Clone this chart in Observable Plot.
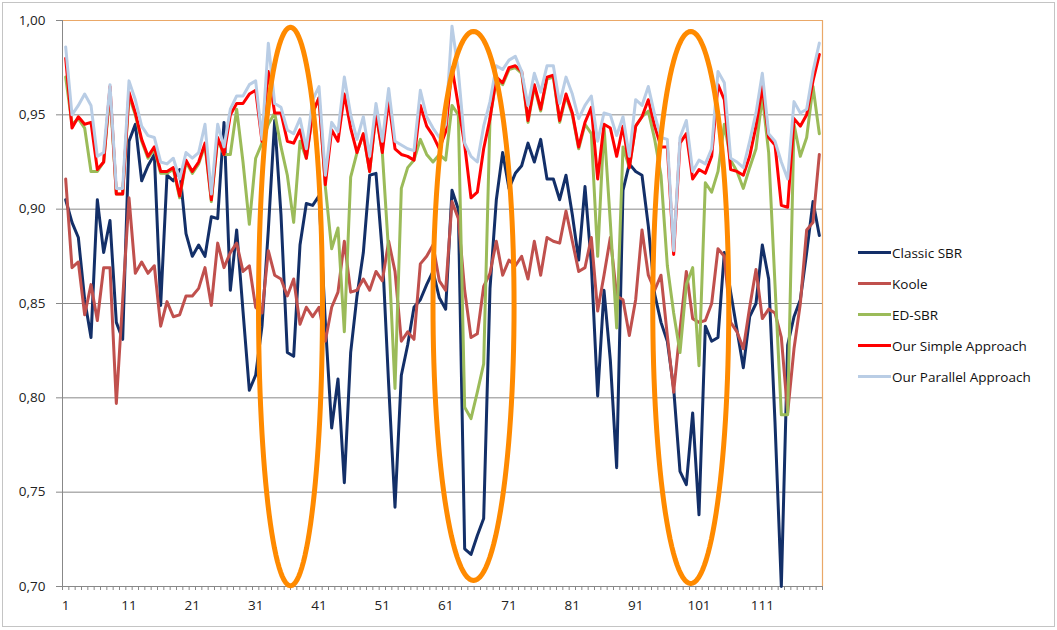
<!DOCTYPE html>
<html>
<head>
<meta charset="utf-8">
<script src="https://cdn.jsdelivr.net/npm/d3@7"></script>
<script src="https://cdn.jsdelivr.net/npm/@observablehq/plot@0.6"></script>
<style>
  body { margin: 0; background: #fff; font-family: "Open Sans", Lato, sans-serif; }
  #chart { position: relative; width: 1057px; height: 630px; }
  #frame { position: absolute; left: 2px; top: 2px; width: 1051px; height: 623px; border: 1px solid #c4c4c4; pointer-events: none; }
  #chart svg { position: absolute; left: 0; top: 0; }
  #legend { position: absolute; left: 858px; top: 237px; }
  .item { display: flex; align-items: center; height: 31px; font-size: 13.5px; color: #111; white-space: nowrap; }
  .swatch { width: 33px; height: 3px; margin-right: 1px; }
</style>
</head>
<body>
<div id="chart"><div id="frame"></div><div id="legend"></div></div>
<script>
// Run numbers 1..120 on the category axis
const runs = d3.range(1, 121);

const classicSBR = [
  0.905, 0.893, 0.885, 0.852, 0.832, 0.905, 0.877, 0.894, 0.840, 0.831,
  0.936, 0.945, 0.915, 0.923, 0.929, 0.849, 0.918, 0.915, 0.921, 0.887,
  0.875, 0.881, 0.875, 0.896, 0.895, 0.946, 0.857, 0.889, 0.846, 0.804,
  0.812, 0.838, 0.889, 0.947, 0.897, 0.824, 0.822, 0.881, 0.903, 0.902,
  0.907, 0.840, 0.784, 0.810, 0.755, 0.824, 0.854, 0.877, 0.918, 0.919,
  0.877, 0.807, 0.742, 0.812, 0.828, 0.848, 0.852, 0.860, 0.867, 0.853,
  0.847, 0.910, 0.900, 0.720, 0.717, 0.727, 0.736, 0.858, 0.905, 0.930,
  0.911, 0.919, 0.923, 0.935, 0.925, 0.937, 0.916, 0.916, 0.905, 0.918,
  0.897, 0.873, 0.912, 0.871, 0.801, 0.857, 0.820, 0.763, 0.910, 0.924,
  0.920, 0.918, 0.891, 0.855, 0.840, 0.830, 0.805, 0.761, 0.754, 0.792,
  0.738, 0.838, 0.830, 0.832, 0.877, 0.856, 0.836, 0.816, 0.843, 0.850,
  0.881, 0.863, 0.787, 0.700, 0.828, 0.843, 0.852, 0.877, 0.904, 0.886
];

const koole = [
  0.916, 0.869, 0.872, 0.844, 0.860, 0.841, 0.869, 0.869, 0.797, 0.852,
  0.906, 0.866, 0.872, 0.866, 0.870, 0.838, 0.851, 0.843, 0.844, 0.854,
  0.854, 0.858, 0.869, 0.849, 0.882, 0.869, 0.877, 0.882, 0.867, 0.870,
  0.848, 0.845, 0.878, 0.865, 0.863, 0.854, 0.863, 0.839, 0.848, 0.843,
  0.848, 0.830, 0.848, 0.856, 0.883, 0.856, 0.857, 0.863, 0.857, 0.867,
  0.862, 0.883, 0.867, 0.830, 0.835, 0.831, 0.871, 0.875, 0.881, 0.862,
  0.857, 0.904, 0.895, 0.857, 0.832, 0.834, 0.859, 0.866, 0.883, 0.865,
  0.873, 0.870, 0.875, 0.863, 0.883, 0.865, 0.885, 0.883, 0.882, 0.899,
  0.883, 0.867, 0.869, 0.885, 0.846, 0.865, 0.885, 0.854, 0.852, 0.833,
  0.852, 0.889, 0.865, 0.857, 0.865, 0.833, 0.803, 0.836, 0.867, 0.842,
  0.840, 0.841, 0.850, 0.879, 0.875, 0.840, 0.835, 0.826, 0.848, 0.868,
  0.842, 0.847, 0.845, 0.832, 0.792, 0.826, 0.850, 0.889, 0.893, 0.929
];

const edSBR = [
  0.970, 0.945, 0.948, 0.943, 0.920, 0.920, 0.925, 0.962, 0.908, 0.908,
  0.960, 0.950, 0.936, 0.927, 0.932, 0.919, 0.919, 0.921, 0.906, 0.925,
  0.919, 0.924, 0.934, 0.904, 0.937, 0.929, 0.929, 0.953, 0.925, 0.892,
  0.927, 0.935, 0.945, 0.951, 0.933, 0.918, 0.893, 0.936, 0.927, 0.951,
  0.959, 0.912, 0.879, 0.890, 0.835, 0.917, 0.930, 0.940, 0.920, 0.951,
  0.930, 0.877, 0.805, 0.911, 0.922, 0.926, 0.937, 0.929, 0.925, 0.929,
  0.926, 0.955, 0.950, 0.795, 0.789, 0.803, 0.818, 0.948, 0.969, 0.966,
  0.974, 0.975, 0.972, 0.946, 0.965, 0.952, 0.969, 0.970, 0.946, 0.960,
  0.950, 0.932, 0.945, 0.940, 0.875, 0.944, 0.893, 0.837, 0.933, 0.922,
  0.944, 0.949, 0.952, 0.937, 0.918, 0.870, 0.845, 0.824, 0.860, 0.869,
  0.817, 0.914, 0.909, 0.920, 0.945, 0.926, 0.920, 0.911, 0.922, 0.932,
  0.960, 0.930, 0.860, 0.791, 0.791, 0.945, 0.928, 0.938, 0.965, 0.940
];

const simpleApproach = [
  0.980, 0.943, 0.949, 0.945, 0.946, 0.921, 0.925, 0.965, 0.908, 0.908,
  0.962, 0.951, 0.937, 0.928, 0.933, 0.920, 0.920, 0.922, 0.907, 0.926,
  0.920, 0.925, 0.935, 0.905, 0.938, 0.929, 0.950, 0.956, 0.956, 0.961,
  0.963, 0.936, 0.973, 0.951, 0.951, 0.936, 0.935, 0.942, 0.927, 0.951,
  0.959, 0.913, 0.942, 0.936, 0.961, 0.943, 0.930, 0.940, 0.920, 0.951,
  0.930, 0.958, 0.932, 0.929, 0.928, 0.926, 0.955, 0.944, 0.939, 0.932,
  0.941, 0.975, 0.955, 0.934, 0.906, 0.909, 0.932, 0.948, 0.970, 0.967,
  0.975, 0.976, 0.973, 0.947, 0.966, 0.953, 0.970, 0.971, 0.947, 0.961,
  0.951, 0.933, 0.946, 0.954, 0.916, 0.945, 0.943, 0.928, 0.944, 0.922,
  0.944, 0.949, 0.958, 0.944, 0.933, 0.933, 0.876, 0.935, 0.940, 0.916,
  0.921, 0.919, 0.928, 0.966, 0.958, 0.921, 0.920, 0.918, 0.928, 0.944,
  0.965, 0.938, 0.934, 0.902, 0.901, 0.948, 0.944, 0.950, 0.968, 0.982
];

const parallelApproach = [
  0.986, 0.950, 0.955, 0.961, 0.955, 0.928, 0.930, 0.966, 0.911, 0.911,
  0.968, 0.958, 0.944, 0.939, 0.938, 0.925, 0.924, 0.927, 0.916, 0.930,
  0.927, 0.930, 0.945, 0.908, 0.945, 0.933, 0.953, 0.960, 0.960, 0.966,
  0.968, 0.937, 0.988, 0.956, 0.954, 0.942, 0.940, 0.948, 0.932, 0.958,
  0.965, 0.918, 0.946, 0.941, 0.970, 0.950, 0.937, 0.949, 0.928, 0.956,
  0.936, 0.964, 0.936, 0.934, 0.932, 0.931, 0.963, 0.949, 0.943, 0.938,
  0.945, 0.997, 0.973, 0.935, 0.928, 0.925, 0.944, 0.957, 0.976, 0.974,
  0.979, 0.981, 0.973, 0.955, 0.972, 0.962, 0.976, 0.976, 0.956, 0.970,
  0.961, 0.948, 0.955, 0.960, 0.936, 0.951, 0.950, 0.939, 0.949, 0.928,
  0.958, 0.955, 0.965, 0.950, 0.938, 0.937, 0.878, 0.938, 0.947, 0.920,
  0.926, 0.924, 0.932, 0.973, 0.967, 0.927, 0.925, 0.922, 0.936, 0.951,
  0.972, 0.940, 0.936, 0.925, 0.916, 0.957, 0.951, 0.953, 0.973, 0.988
];

const seriesNames = ["Classic SBR", "Koole", "ED-SBR", "Our Simple Approach", "Our Parallel Approach"];
const seriesColors = ["#132f68", "#c0504d", "#9bbb59", "#ff0000", "#b9cde5"];
const seriesValues = [classicSBR, koole, edSBR, simpleApproach, parallelApproach];

const yTicks = [0.70, 0.75, 0.80, 0.85, 0.90, 0.95, 1.00];
const xTickLabels = [1, 11, 21, 31, 41, 51, 61, 71, 81, 91, 101, 111];

// Highlighted run ranges (centre run, centre value, half-width in runs, half-height in value)
const highlights = [
  { run: 36.5, value: 0.8484, halfRuns: 5.05, halfValue: 0.148 },
  { run: 65.4, value: 0.8487, halfRuns: 6.4, halfValue: 0.1455 },
  { run: 99.7, value: 0.8479, halfRuns: 6.0, halfValue: 0.1463 }
];

// Long table for the line mark
const table = [];
seriesNames.forEach((name, s) => {
  runs.forEach((r, i) => table.push({ series: name, run: r, value: seriesValues[s][i] }));
});

// Outline points for each highlight ellipse, in data units
const outline = [];
highlights.forEach((h, k) => {
  for (let j = 0; j < 120; j++) {
    const t = (j / 120) * 2 * Math.PI;
    outline.push({ id: k, run: h.run + h.halfRuns * Math.cos(t), value: h.value + h.halfValue * Math.sin(t) });
  }
});

const comma = d => d3.format(".2f")(d).replace(".", ",");

const chart = Plot.plot({
  width: 1057,
  height: 630,
  marginLeft: 62,
  marginRight: 235,
  marginTop: 20,
  marginBottom: 44,
  style: { fontFamily: "'Open Sans', Lato, sans-serif", fontSize: "13.5px", color: "#222", background: "transparent", overflow: "visible" },
  x: { domain: [0.5, 120.5], label: null },
  y: { domain: [0.70, 1.00], label: null },
  color: { domain: seriesNames, range: seriesColors },
  marks: [
    Plot.gridY(yTicks.slice(1, -1), { stroke: "#888888", strokeOpacity: 1, strokeWidth: 1 }),
    Plot.ruleY([1.00], { stroke: "#eaa868", strokeWidth: 1.2 }),
    Plot.ruleX([120.5], { stroke: "#eaa868", strokeWidth: 1.2 }),
    Plot.ruleX([0.5], { stroke: "#888888" }),
    Plot.ruleY([0.70], { stroke: "#888888" }),
    Plot.axisY(yTicks, { tickFormat: comma, tickSize: 6, tickPadding: 11, stroke: "#888888", fill: "#222", label: null }),
    Plot.axisX(d3.range(0.5, 121, 1), { tickSize: 4, tickFormat: () => "", stroke: "#888888", label: null }),
    Plot.axisX(xTickLabels, { tickSize: 0, tickPadding: 14, fill: "#222", label: null }),
    Plot.line(table, {
      x: "run", y: "value", z: "series", stroke: "series",
      strokeWidth: 3, strokeLinejoin: "round", strokeLinecap: "round"
    }),
    Plot.line(outline, {
      x: "run", y: "value", z: "id", curve: "linear-closed",
      stroke: "#ff8a00", strokeWidth: 5
    })
  ]
});

document.getElementById("chart").appendChild(chart);

// Legend on the right
const legend = d3.select("#legend");
seriesNames.forEach((name, i) => {
  const item = legend.append("div").attr("class", "item");
  item.append("div").attr("class", "swatch").style("background", seriesColors[i]);
  item.append("span").text(name);
});
</script>
</body>
</html>
